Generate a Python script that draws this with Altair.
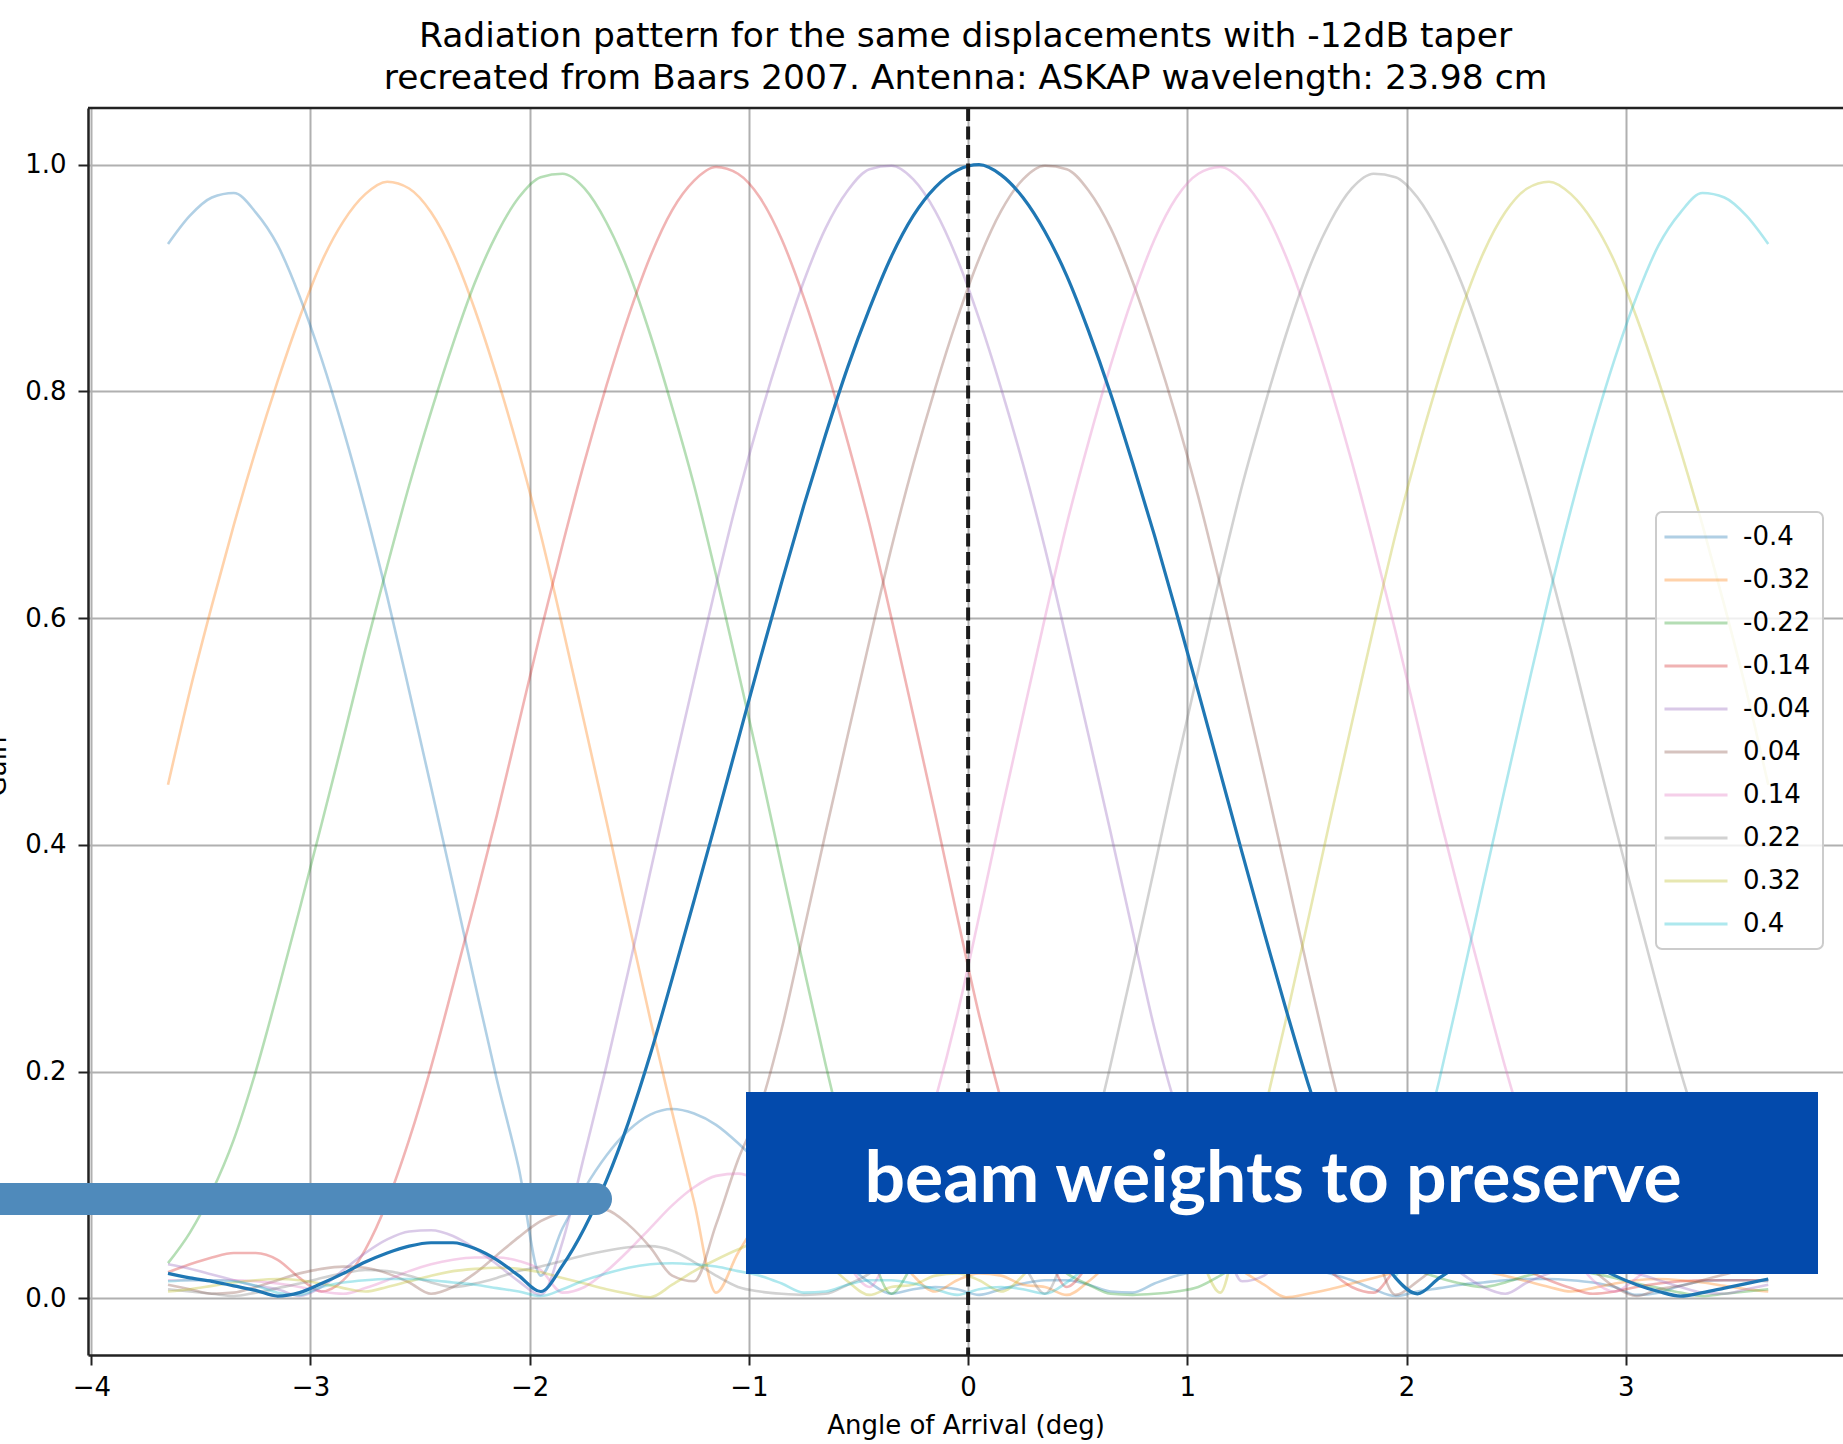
import altair as alt
import pandas as pd

# ---------------- data ----------------
angles = [-3.65, -3.55, -3.45, -3.35, -3.25, -3.15, -3.05, -2.95, -2.85, -2.75,
          -2.65, -2.55, -2.45, -2.35, -2.25, -2.15, -2.05, -1.95, -1.85, -1.75,
          -1.65, -1.55, -1.45, -1.35, -1.25, -1.15, -1.05, -0.95, -0.85, -0.75,
          -0.65, -0.55, -0.45, -0.35, -0.25, -0.15, -0.05, 0.05, 0.15, 0.25,
          0.35, 0.45, 0.55, 0.65, 0.75, 0.85, 0.95, 1.05, 1.15, 1.25,
          1.35, 1.45, 1.55, 1.65, 1.75, 1.85, 1.95, 2.05, 2.15, 2.25,
          2.35, 2.45, 2.55, 2.65, 2.75, 2.85, 2.95, 3.05, 3.15, 3.25,
          3.35, 3.45, 3.55, 3.65]

displacements = ["-0.4", "-0.32", "-0.22", "-0.14", "-0.04",
                 "0.04", "0.14", "0.22", "0.32", "0.4"]

gain_m040 = [0.930, 0.955, 0.971, 0.975, 0.958, 0.929, 0.884, 0.829, 0.766, 0.696,
             0.619, 0.536, 0.451, 0.365, 0.278, 0.193, 0.115, 0.020, 0.062, 0.097,
             0.126, 0.148, 0.162, 0.167, 0.163, 0.153, 0.137, 0.118, 0.096, 0.073,
             0.050, 0.030, 0.014, 0.004, 0.008, 0.010, 0.008, 0.003, 0.008, 0.013,
             0.016, 0.016, 0.012, 0.006, 0.005, 0.013, 0.020, 0.024, 0.028, 0.030,
             0.031, 0.030, 0.027, 0.022, 0.016, 0.008, 0.002, 0.006, 0.009, 0.012,
             0.014, 0.016, 0.017, 0.017, 0.016, 0.014, 0.010, 0.003, 0.005, 0.011,
             0.015, 0.016, 0.016, 0.015]

gain_m032 = [0.453, 0.536, 0.611, 0.682, 0.748, 0.809, 0.865, 0.914, 0.950, 0.974,
             0.985, 0.979, 0.958, 0.922, 0.872, 0.813, 0.747, 0.674, 0.592, 0.507,
             0.421, 0.333, 0.246, 0.164, 0.085, 0.005, 0.040, 0.070, 0.090, 0.100,
             0.100, 0.090, 0.070, 0.045, 0.020, 0.006, 0.016, 0.022, 0.020, 0.012,
             0.010, 0.003, 0.015, 0.032, 0.045, 0.050, 0.050, 0.043, 0.034, 0.024,
             0.012, 0.001, 0.004, 0.008, 0.013, 0.018, 0.023, 0.026, 0.027, 0.026,
             0.024, 0.020, 0.015, 0.010, 0.006, 0.009, 0.013, 0.016, 0.017, 0.016,
             0.014, 0.011, 0.008, 0.006]

gain_m022 = [0.031, 0.058, 0.094, 0.140, 0.200, 0.270, 0.343, 0.418, 0.494, 0.572,
             0.646, 0.717, 0.782, 0.842, 0.896, 0.939, 0.971, 0.989, 0.992, 0.979,
             0.949, 0.906, 0.850, 0.786, 0.717, 0.638, 0.554, 0.469, 0.380, 0.292,
             0.206, 0.125, 0.048, 0.004, 0.030, 0.050, 0.063, 0.068, 0.065, 0.055,
             0.040, 0.022, 0.012, 0.004, 0.003, 0.004, 0.006, 0.010, 0.020, 0.032,
             0.042, 0.046, 0.045, 0.042, 0.038, 0.033, 0.028, 0.024, 0.018, 0.013,
             0.010, 0.014, 0.020, 0.024, 0.025, 0.022, 0.018, 0.013, 0.009, 0.005,
             0.002, 0.004, 0.006, 0.008]

gain_m014 = [0.023, 0.030, 0.036, 0.040, 0.040, 0.034, 0.018, 0.006, 0.016, 0.043,
             0.085, 0.140, 0.204, 0.276, 0.350, 0.426, 0.507, 0.588, 0.665, 0.738,
             0.805, 0.866, 0.919, 0.960, 0.986, 0.998, 0.992, 0.971, 0.934, 0.883,
             0.823, 0.756, 0.683, 0.600, 0.514, 0.427, 0.337, 0.250, 0.175, 0.110,
             0.050, 0.010, 0.030, 0.055, 0.076, 0.093, 0.104, 0.110, 0.108, 0.098,
             0.082, 0.062, 0.042, 0.024, 0.010, 0.005, 0.025, 0.033, 0.036, 0.036,
             0.034, 0.030, 0.024, 0.016, 0.009, 0.004, 0.006, 0.010, 0.013, 0.015,
             0.016, 0.016, 0.016, 0.016]

gain_m004 = [0.030, 0.026, 0.021, 0.016, 0.011, 0.008, 0.002, 0.010, 0.025, 0.040,
             0.052, 0.059, 0.060, 0.055, 0.044, 0.030, 0.015, 0.003, 0.050, 0.127,
             0.205, 0.289, 0.376, 0.462, 0.546, 0.629, 0.707, 0.777, 0.840, 0.897,
             0.944, 0.977, 0.996, 0.999, 0.987, 0.959, 0.917, 0.864, 0.803, 0.736,
             0.662, 0.580, 0.496, 0.411, 0.324, 0.238, 0.168, 0.122, 0.065, 0.015,
             0.020, 0.045, 0.065, 0.078, 0.080, 0.076, 0.068, 0.054, 0.038, 0.022,
             0.010, 0.004, 0.014, 0.022, 0.027, 0.028, 0.026, 0.022, 0.016, 0.010,
             0.005, 0.004, 0.008, 0.012]

gain_p004 = [0.012, 0.008, 0.004, 0.005, 0.010, 0.016, 0.022, 0.026, 0.028, 0.027,
             0.022, 0.014, 0.004, 0.010, 0.022, 0.038, 0.054, 0.068, 0.076, 0.080,
             0.078, 0.065, 0.045, 0.020, 0.015, 0.065, 0.122, 0.168, 0.238, 0.324,
             0.411, 0.496, 0.580, 0.662, 0.736, 0.803, 0.864, 0.917, 0.959, 0.987,
             0.999, 0.996, 0.977, 0.944, 0.897, 0.840, 0.777, 0.707, 0.629, 0.546,
             0.462, 0.376, 0.289, 0.205, 0.127, 0.050, 0.003, 0.015, 0.030, 0.044,
             0.055, 0.060, 0.059, 0.052, 0.040, 0.025, 0.010, 0.002, 0.008, 0.011,
             0.016, 0.021, 0.026, 0.030]

gain_p014 = [0.016, 0.016, 0.016, 0.016, 0.015, 0.013, 0.010, 0.006, 0.004, 0.009,
             0.016, 0.024, 0.030, 0.034, 0.036, 0.036, 0.033, 0.025, 0.005, 0.010,
             0.024, 0.042, 0.062, 0.082, 0.098, 0.108, 0.110, 0.104, 0.093, 0.076,
             0.055, 0.030, 0.010, 0.050, 0.110, 0.175, 0.250, 0.337, 0.427, 0.514,
             0.600, 0.683, 0.756, 0.823, 0.883, 0.934, 0.971, 0.992, 0.998, 0.986,
             0.960, 0.919, 0.866, 0.805, 0.738, 0.665, 0.588, 0.507, 0.426, 0.350,
             0.276, 0.204, 0.140, 0.085, 0.043, 0.016, 0.006, 0.018, 0.034, 0.040,
             0.040, 0.036, 0.030, 0.023]

gain_p022 = [0.008, 0.006, 0.004, 0.002, 0.005, 0.009, 0.013, 0.018, 0.022, 0.025,
             0.024, 0.020, 0.014, 0.010, 0.013, 0.018, 0.024, 0.028, 0.033, 0.038,
             0.042, 0.045, 0.046, 0.042, 0.032, 0.020, 0.010, 0.006, 0.004, 0.003,
             0.004, 0.012, 0.022, 0.040, 0.055, 0.065, 0.068, 0.063, 0.050, 0.030,
             0.004, 0.048, 0.125, 0.206, 0.292, 0.380, 0.469, 0.554, 0.638, 0.717,
             0.786, 0.850, 0.906, 0.949, 0.979, 0.992, 0.989, 0.971, 0.939, 0.896,
             0.842, 0.782, 0.717, 0.646, 0.572, 0.494, 0.418, 0.343, 0.270, 0.200,
             0.140, 0.094, 0.058, 0.031]

gain_p032 = [0.006, 0.008, 0.011, 0.014, 0.016, 0.017, 0.016, 0.013, 0.009, 0.006,
             0.010, 0.015, 0.020, 0.024, 0.026, 0.027, 0.026, 0.023, 0.018, 0.013,
             0.008, 0.004, 0.001, 0.012, 0.024, 0.034, 0.043, 0.050, 0.050, 0.045,
             0.032, 0.015, 0.003, 0.010, 0.012, 0.020, 0.022, 0.016, 0.006, 0.020,
             0.045, 0.070, 0.090, 0.100, 0.100, 0.090, 0.070, 0.040, 0.005, 0.085,
             0.164, 0.246, 0.333, 0.421, 0.507, 0.592, 0.674, 0.747, 0.813, 0.872,
             0.922, 0.958, 0.979, 0.985, 0.974, 0.950, 0.914, 0.865, 0.809, 0.748,
             0.682, 0.611, 0.536, 0.453]

gain_p040 = [0.015, 0.016, 0.016, 0.015, 0.011, 0.005, 0.003, 0.010, 0.014, 0.016,
             0.017, 0.017, 0.016, 0.014, 0.012, 0.009, 0.006, 0.002, 0.008, 0.016,
             0.022, 0.027, 0.030, 0.031, 0.030, 0.028, 0.024, 0.020, 0.013, 0.005,
             0.006, 0.012, 0.016, 0.016, 0.013, 0.008, 0.003, 0.008, 0.010, 0.008,
             0.004, 0.014, 0.030, 0.050, 0.073, 0.096, 0.118, 0.137, 0.153, 0.163,
             0.167, 0.162, 0.148, 0.126, 0.097, 0.062, 0.020, 0.115, 0.193, 0.278,
             0.365, 0.451, 0.536, 0.619, 0.696, 0.766, 0.829, 0.884, 0.929, 0.958,
             0.975, 0.971, 0.955, 0.930]

# the highlighted (zero displacement) beam
gain_center = [0.022, 0.018, 0.015, 0.011, 0.007, 0.002, 0.005, 0.013, 0.022, 0.032,
               0.040, 0.046, 0.049, 0.049, 0.044, 0.034, 0.020, 0.006, 0.029, 0.062,
               0.104, 0.155, 0.215, 0.282, 0.351, 0.421, 0.492, 0.563, 0.632, 0.699,
               0.762, 0.821, 0.873, 0.919, 0.955, 0.980, 0.995, 1.000, 0.991, 0.971,
               0.941, 0.902, 0.853, 0.798, 0.737, 0.673, 0.605, 0.535, 0.464, 0.393,
               0.323, 0.255, 0.190, 0.133, 0.086, 0.048, 0.018, 0.004, 0.018, 0.030,
               0.040, 0.047, 0.049, 0.047, 0.040, 0.030, 0.020, 0.012, 0.006, 0.002,
               0.005, 0.009, 0.013, 0.017]

vline_at = [0.0]
title_lines = ["Radiation pattern for the same displacements with -12dB taper",
               "recreated from Baars 2007. Antenna: ASKAP wavelength: 23.98 cm"]
banner_text = ["beam weights to preserve"]
x_ticks = [-4, -3, -2, -1, 0, 1, 2, 3]
y_ticks = [0.0, 0.2, 0.4, 0.6, 0.8, 1.0]

colors = ["#1f77b4", "#ff7f0e", "#2ca02c", "#d62728", "#9467bd",
          "#8c564b", "#e377c2", "#7f7f7f", "#bcbd22", "#17becf"]

series = [gain_m040, gain_m032, gain_m022, gain_m014, gain_m004,
          gain_p004, gain_p014, gain_p022, gain_p032, gain_p040]
for s in series + [gain_center]:
    assert len(s) == len(angles), len(s)

rows = []
for lab, vals in zip(displacements, series):
    for a, g in zip(angles, vals):
        rows.append({"angle": a, "gain": g, "disp": lab})
faint_df = pd.DataFrame(rows)
center_df = pd.DataFrame({"angle": angles, "gain": gain_center})
vline_df = pd.DataFrame({"angle": vline_at})
one_df = pd.DataFrame({"label": banner_text})

# ---------------- layout ----------------
W, H = 1755, 1247
x_scale = alt.Scale(domain=[-4.015, 3.991], nice=False, zero=False)
y_scale = alt.Scale(domain=[-0.05, 1.05], nice=False, zero=False)

x_axis = alt.Axis(values=x_ticks, format="d", title="Angle of Arrival (deg)",
                  labelPadding=9, titlePadding=12)
y_axis = alt.Axis(values=y_ticks, format=".1f", title="Gain", labelPadding=12,
                  titleAngle=270, titleX=-83, titleY=658,
                  titleBaseline="alphabetic", titleAlign="center")

legend = alt.Legend(title=None, orient="none", legendX=1568, legendY=404,
                    symbolType="M-2.74,0H2.74", symbolSize=529,
                    symbolStrokeWidth=3, symbolOpacity=0.35, symbolOffset=15,
                    labelOffset=34, labelFont="DejaVu Sans", labelFontSize=26,
                    labelColor="#000000", rowPadding=17, padding=12,
                    labelExpr="datum.label + '\u00a0'",
                    cornerRadius=6, fillColor="rgba(255,255,255,0.8)",
                    strokeColor="#cccccc")

faint = alt.Chart(faint_df).mark_line(strokeWidth=2.6, opacity=0.35,
                                      interpolate="monotone").encode(
    x=alt.X("angle:Q", scale=x_scale, axis=x_axis),
    y=alt.Y("gain:Q", scale=y_scale, axis=y_axis),
    color=alt.Color("disp:N", scale=alt.Scale(domain=displacements, range=colors),
                    legend=legend),
)

bold = alt.Chart(center_df).mark_line(color="#1f77b4", strokeWidth=3.2,
                                      interpolate="monotone").encode(
    x=alt.X("angle:Q", scale=x_scale),
    y=alt.Y("gain:Q", scale=y_scale),
)

vline = alt.Chart(vline_df).mark_rule(color="#1a1a1a", strokeWidth=4,
                                      strokeDash=[13, 5.5]).encode(
    x=alt.X("angle:Q", scale=x_scale),
    y=alt.value(0), y2=alt.value(H),
)

top_spine = alt.Chart(one_df).mark_rule(color="#222222", strokeWidth=2.5).encode(
    x=alt.value(0), x2=alt.value(W), y=alt.value(0)
)

pointer = alt.Chart(one_df).mark_rule(color="#4F8ABB", strokeWidth=32,
                                      strokeCap="round").encode(
    x=alt.value(-140), x2=alt.value(508), y=alt.value(1091)
)

banner = alt.Chart(one_df).mark_rect(color="#034AAC").encode(
    x=alt.value(658), x2=alt.value(1730), y=alt.value(984), y2=alt.value(1166)
)

banner_txt = alt.Chart(one_df).mark_text(font="Lato", fontWeight="bold", fontSize=71.5,
                                         color="#ffffff", align="center",
                                         baseline="alphabetic").encode(
    x=alt.value(1185), y=alt.value(1094), text="label:N"
)

chart = alt.layer(faint, bold, vline, top_spine, pointer, banner, banner_txt).properties(
    width=W, height=H,
    title=alt.TitleParams(text=title_lines, font="DejaVu Sans", fontSize=34.5,
                          fontWeight="normal", color="#000000", anchor="middle",
                          offset=10, lineHeight=42),
    autosize=alt.AutoSizeParams(type="none"),
    padding={"left": 88, "top": 108, "right": 0, "bottom": 89},
    background="#ffffff",
).configure_view(strokeWidth=0).configure_axis(
    domainColor="#222222", domainWidth=2.5, tickColor="#222222", tickWidth=2,
    tickSize=10, labelFont="DejaVu Sans", labelFontSize=26, labelColor="#000000",
    titleFont="DejaVu Sans", titleFontSize=26, titleFontWeight="normal",
    titleColor="#000000", gridColor="#b0b0b0", gridWidth=2, labelFlush=False,
    labelOverlap=False,
).configure_legend(strokeWidth=2)

chart.save("out.html", embed_options={"renderer": "svg", "actions": False})
